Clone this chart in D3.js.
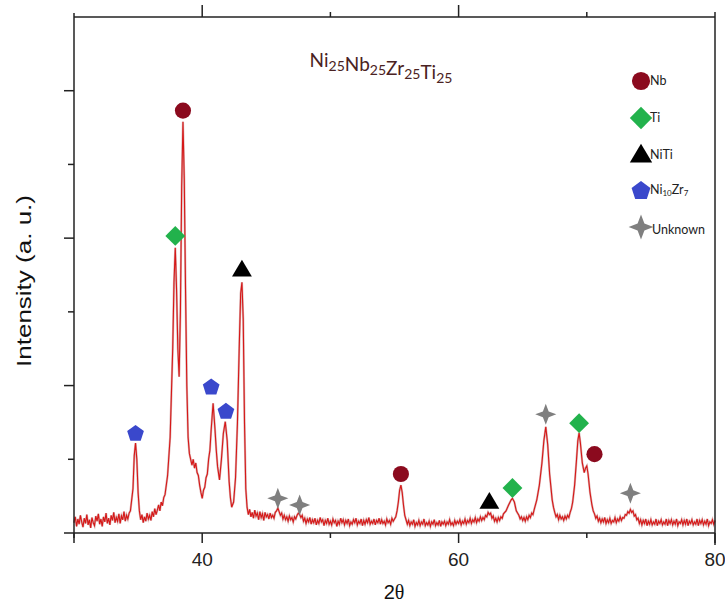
<!DOCTYPE html>
<html>
<head>
<meta charset="utf-8">
<script src="https://cdn.jsdelivr.net/npm/d3@7/dist/d3.min.js"></script>
<style>
  body { margin: 0; background: #fff; }
  svg { display: block; }
</style>
</head>
<body>
<div id="chart"></div>
<script>
var width = 725;
var height = 606;

// XRD scan: [2theta, intensity (a.u.)]
var scan = [
  [30.0,14],[30.1,22],[30.2,9],[30.3,19],[30.4,12],[30.5,24],[30.6,15],[30.7,8],[30.8,20],[30.9,13],
  [31.0,25],[31.1,11],[31.2,18],[31.3,7],[31.4,21],[31.5,14],[31.6,10],[31.7,23],[31.8,16],[31.9,26],
  [32.0,12],[32.1,19],[32.2,9],[32.3,22],[32.4,15],[32.5,27],[32.6,13],[32.7,20],[32.8,11],[32.9,24],
  [33.0,17],[33.1,28],[33.2,14],[33.3,21],[33.4,16],[33.5,26],[33.6,13],[33.7,23],[33.8,18],[33.9,29],
  [34.0,16],[34.1,24],[34.2,19],[34.3,27],[34.4,30],[34.6,60],[34.7,105],[34.8,122],[34.9,100],[35.0,55],
  [35.1,30],[35.2,18],[35.3,25],[35.4,14],[35.5,22],[35.6,16],[35.7,27],[35.8,19],[35.9,24],[36.0,17],
  [36.1,29],[36.2,22],[36.3,33],[36.4,25],[36.5,31],[36.6,38],[36.7,30],[36.8,42],[36.9,37],[37.0,48],
  [37.1,52],[37.3,78],[37.5,130],[37.7,250],[37.8,340],[37.9,387],[38.0,330],[38.1,250],[38.2,212],[38.3,300],
  [38.4,470],[38.5,558],[38.6,480],[38.7,330],[38.8,200],[38.9,130],[39.0,108],[39.1,100],[39.2,92],[39.3,100],
  [39.4,88],[39.5,95],[39.6,82],[39.7,78],[39.8,65],[39.9,55],[40.0,47],[40.1,58],[40.2,62],[40.3,75],
  [40.4,80],[40.5,100],[40.6,112],[40.7,140],[40.85,176],[41.0,140],[41.1,112],[41.2,90],[41.35,72],[41.5,100],
  [41.65,135],[41.8,151],[41.95,125],[42.1,70],[42.2,48],[42.3,35],[42.45,42],[42.6,75],[42.75,150],[42.9,260],
  [43.0,325],[43.1,340],[43.2,290],[43.3,150],[43.4,60],[43.5,35],[43.6,25],[43.7,32],[43.8,22],[43.9,28],
  [44.0,20],[44.1,31],[44.2,23],[44.3,27],[44.4,18],[44.5,29],[44.6,21],[44.7,26],[44.8,17],[44.9,28],
  [45.0,22],[45.1,25],[45.2,19],[45.3,27],[45.4,21],[45.5,24],[45.6,20],[45.7,28],[45.8,30],[45.9,34],
  [46.0,29],[46.1,24],[46.2,27],[46.3,19],[46.4,24],[46.5,18],[46.6,22],[46.7,16],[46.8,23],[46.9,18],
  [47.0,21],[47.1,15],[47.2,22],[47.3,19],[47.4,24],[47.5,27],[47.6,25],[47.7,21],[47.8,24],[47.9,16],
  [48.0,20],[48.1,13],[48.2,19],[48.3,15],[48.4,21],[48.5,12],[48.6,18],[48.7,14],[48.8,20],[48.9,11],
  [49.0,17],[49.1,13],[49.2,21],[49.3,15],[49.4,18],[49.5,10],[49.6,17],[49.7,13],[49.8,20],[49.9,12],
  [50.0,16],[50.1,11],[50.2,19],[50.3,14],[50.4,17],[50.5,9],[50.6,16],[50.7,12],[50.8,20],[50.9,14],
  [51.0,18],[51.1,11],[51.2,17],[51.3,13],[51.4,19],[51.5,10],[51.6,15],[51.7,12],[51.8,18],[51.9,14],
  [52.0,20],[52.1,11],[52.2,16],[52.3,13],[52.4,19],[52.5,10],[52.6,17],[52.7,12],[52.8,18],[52.9,14],
  [53.0,21],[53.1,12],[53.2,16],[53.3,13],[53.4,19],[53.5,11],[53.6,17],[53.7,14],[53.8,20],[53.9,12],
  [54.0,18],[54.1,13],[54.2,16],[54.3,11],[54.4,19],[54.5,14],[54.6,17],[54.7,12],[54.8,20],[54.9,16],
  [55.0,19],[55.1,22],[55.2,30],[55.3,42],[55.4,58],[55.5,65],[55.6,55],[55.7,38],[55.8,24],[55.9,18],
  [56.0,12],[56.1,17],[56.2,10],[56.3,15],[56.4,12],[56.5,18],[56.6,9],[56.7,14],[56.8,11],[56.9,17],
  [57.0,10],[57.1,15],[57.2,12],[57.3,19],[57.4,10],[57.5,14],[57.6,11],[57.7,16],[57.8,9],[57.9,15],
  [58.0,12],[58.1,18],[58.2,10],[58.3,14],[58.4,11],[58.5,17],[58.6,9],[58.7,15],[58.8,12],[58.9,16],
  [59.0,10],[59.1,15],[59.2,12],[59.3,18],[59.4,11],[59.5,14],[59.6,10],[59.7,17],[59.8,12],[59.9,16],
  [60.0,13],[60.1,18],[60.2,11],[60.3,16],[60.4,13],[60.5,19],[60.6,12],[60.7,17],[60.8,14],[60.9,20],
  [61.0,13],[61.1,18],[61.2,15],[61.3,21],[61.4,14],[61.5,19],[61.6,16],[61.7,22],[61.8,17],[61.9,21],
  [62.0,18],[62.1,24],[62.2,22],[62.3,28],[62.4,25],[62.5,27],[62.6,20],[62.7,23],[62.8,16],[62.9,20],
  [63.0,15],[63.1,21],[63.2,17],[63.3,22],[63.4,20],[63.5,26],[63.7,30],[63.9,38],[64.1,45],[64.2,47],
  [64.35,42],[64.5,30],[64.6,27],[64.7,24],[64.8,19],[64.9,22],[65.0,17],[65.1,21],[65.2,16],[65.3,22],
  [65.4,18],[65.5,24],[65.6,21],[65.7,27],[65.8,25],[65.9,32],[66.1,45],[66.3,65],[66.5,95],[66.65,125],
  [66.8,144],[66.95,120],[67.1,80],[67.3,45],[67.4,35],[67.5,28],[67.6,22],[67.7,25],[67.8,18],[67.9,24],
  [68.0,19],[68.1,22],[68.2,17],[68.3,23],[68.4,19],[68.5,24],[68.6,21],[68.7,28],[68.8,33],[68.9,42],
  [69.05,65],[69.2,100],[69.3,125],[69.4,136],[69.5,122],[69.65,95],[69.8,82],[69.9,88],[70.0,91],[70.1,80],
  [70.25,55],[70.4,38],[70.5,30],[70.6,26],[70.7,20],[70.8,23],[70.9,16],[71.0,20],[71.1,14],[71.2,19],
  [71.3,15],[71.4,21],[71.5,13],[71.6,18],[71.7,14],[71.8,20],[71.9,13],[72.0,17],[72.1,15],[72.2,21],
  [72.3,14],[72.4,19],[72.5,16],[72.6,22],[72.7,17],[72.8,21],[72.9,20],[73.0,25],[73.1,24],[73.2,29],
  [73.3,27],[73.4,32],[73.5,28],[73.6,30],[73.7,23],[73.8,25],[73.9,18],[74.0,20],[74.1,13],[74.2,18],
  [74.3,11],[74.4,17],[74.5,13],[74.6,19],[74.7,10],[74.8,16],[74.9,12],[75.0,18],[75.1,11],[75.2,15],
  [75.3,12],[75.4,19],[75.5,10],[75.6,16],[75.7,13],[75.8,18],[75.9,11],[76.0,15],[76.1,12],[76.2,19],
  [76.3,10],[76.4,17],[76.5,13],[76.6,18],[76.7,11],[76.8,16],[76.9,12],[77.0,19],[77.1,10],[77.2,15],
  [77.3,13],[77.4,18],[77.5,11],[77.6,17],[77.7,12],[77.8,19],[77.9,10],[78.0,16],[78.1,13],[78.2,18],
  [78.3,11],[78.4,15],[78.5,12],[78.6,19],[78.7,10],[78.8,17],[78.9,13],[79.0,18],[79.1,11],[79.2,16],
  [79.3,12],[79.4,19],[79.5,10],[79.6,15],[79.7,13],[79.8,18],[79.9,12],[80.0,17]
];

// phase markers: [2theta, intensity, phase]
var peakMarks = [
  [38.5, 573, "Nb"], [55.5, 80, "Nb"], [70.6, 107, "Nb"],
  [37.9, 403, "Ti"], [64.2, 61, "Ti"], [69.4, 149, "Ti"],
  [43.1, 357, "NiTi"], [62.4, 42, "NiTi"],
  [34.8, 136, "NiZr"], [40.7, 199, "NiZr"], [41.85, 166, "NiZr"],
  [45.9, 47, "Unk"], [47.6, 38, "Unk"], [66.8, 161, "Unk"], [73.4, 54, "Unk"]
];

var phases = ["Nb", "Ti", "NiTi", "NiZr", "Unk"];
var phaseColors = ["#8b0a1e", "#22b24c", "#000000", "#3a48cc", "#7f7f7f"];

var xMajor = [40, 60, 80];
var yMajor = [200, 400, 600];
var yMinor = [100, 300, 500];

var xScale = d3.scaleLinear().domain([30, 80]).range([74, 715]);
var yScale = d3.scaleLinear().domain([0, 700]).range([533, 17]);
var colorScale = d3.scaleOrdinal().domain(phases).range(phaseColors);

var svg = d3.select("#chart").append("svg")
    .attr("width", width)
    .attr("height", height);

// marker shapes
function markerPath(type, s) {
    if (type === "Nb") return d3.symbol().type(d3.symbolCircle).size(s * s * 0.8)();
    if (type === "Ti") {
        var r = s * 0.62;
        return "M0," + (-r) + "L" + r + ",0L0," + r + "L" + (-r) + ",0Z";
    }
    if (type === "NiTi") {
        var h = s * 1.05, w = s * 0.62;
        return "M0," + (-h * 0.6) + "L" + w + "," + (h * 0.4) + "L" + (-w) + "," + (h * 0.4) + "Z";
    }
    if (type === "NiZr") {
        var pts = d3.range(5).map(function(i) {
            var a = -Math.PI / 2 + i * 2 * Math.PI / 5;
            return [Math.cos(a) * s * 0.55, Math.sin(a) * s * 0.55 + 1];
        });
        return "M" + pts.join("L") + "Z";
    }
    // 4-point star
    var o = s * 0.62, n = s * 0.17;
    return "M0," + (-o) + "L" + n + "," + (-n) + "L" + o + ",0L" + n + "," + n +
           "L0," + o + "L" + (-n) + "," + n + "L" + (-o) + ",0L" + (-n) + "," + (-n) + "Z";
}

// scan line
var line = d3.line()
    .x(function(d) { return xScale(d[0]); })
    .y(function(d) { return yScale(d[1]); });

svg.append("path")
    .datum(scan)
    .attr("fill", "none")
    .attr("stroke", "#dcb4b4")
    .attr("stroke-width", 2.2)
    .attr("d", line);

svg.append("path")
    .datum(scan)
    .attr("fill", "none")
    .attr("stroke", "#d61818")
    .attr("stroke-width", 1.1)
    .attr("d", line);

// frame
var frame = svg.append("g").attr("stroke", "#222").attr("stroke-width", 1.5);
frame.append("line").attr("x1", 64).attr("x2", 715).attr("y1", 533).attr("y2", 533);
frame.append("line").attr("x1", 74).attr("x2", 715).attr("y1", 17).attr("y2", 17);
frame.append("line").attr("x1", 74).attr("x2", 74).attr("y1", 13).attr("y2", 538);
frame.append("line").attr("x1", 715).attr("x2", 715).attr("y1", 12).attr("y2", 545);

// x ticks (bottom down, top up)
frame.selectAll(".xmaj").data([30, 40, 60, 80]).enter().append("line")
    .attr("x1", function(d) { return xScale(d); }).attr("x2", function(d) { return xScale(d); })
    .attr("y1", 533).attr("y2", 543);
frame.selectAll(".xmin").data([50, 70]).enter().append("line")
    .attr("x1", function(d) { return xScale(d); }).attr("x2", function(d) { return xScale(d); })
    .attr("y1", 533).attr("y2", 538);
frame.selectAll(".xtmaj").data([40, 60]).enter().append("line")
    .attr("x1", function(d) { return xScale(d); }).attr("x2", function(d) { return xScale(d); })
    .attr("y1", 17).attr("y2", 5);
frame.selectAll(".xtmin").data([50, 70]).enter().append("line")
    .attr("x1", function(d) { return xScale(d); }).attr("x2", function(d) { return xScale(d); })
    .attr("y1", 17).attr("y2", 12);

// y ticks (left, outward)
frame.selectAll(".ymaj").data(yMajor).enter().append("line")
    .attr("x1", 64).attr("x2", 74)
    .attr("y1", function(d) { return yScale(d); }).attr("y2", function(d) { return yScale(d); });
frame.selectAll(".ymin").data(yMinor).enter().append("line")
    .attr("x1", 68).attr("x2", 74)
    .attr("y1", function(d) { return yScale(d); }).attr("y2", function(d) { return yScale(d); });

svg.selectAll(".xlab").data(xMajor).enter().append("text")
    .attr("x", function(d) { return xScale(d); })
    .attr("y", 566)
    .attr("text-anchor", "middle")
    .style("font-family", "'Liberation Sans', Arial, sans-serif")
    .style("font-size", "19px")
    .style("fill", "#222")
    .text(function(d) { return d; });

// axis titles
var xt = svg.append("text")
    .attr("x", 394).attr("y", 599)
    .attr("text-anchor", "middle")
    .style("font-family", "'Liberation Sans', Arial, sans-serif")
    .style("font-size", "20px")
    .style("fill", "#111");
xt.append("tspan").text("2");
xt.append("tspan").style("font-family", "'Liberation Serif', 'DejaVu Serif', serif").text("θ");

svg.append("text")
    .attr("transform", "translate(31,281) rotate(-90)")
    .attr("text-anchor", "middle")
    .attr("textLength", 172)
    .attr("lengthAdjust", "spacingAndGlyphs")
    .style("font-family", "'Liberation Sans', Arial, sans-serif")
    .style("font-size", "21px")
    .style("fill", "#111")
    .text("Intensity (a. u.)");

// composition label
var title = svg.append("text")
    .attr("x", 381).attr("y", 67)
    .attr("text-anchor", "middle")
    .style("font-family", "Lato, 'Open Sans', sans-serif")
    .style("font-size", "19px")
    .style("fill", "#4a2222");
[["Ni", "25"], ["Nb", "25"], ["Zr", "25"], ["Ti", "25"]].forEach(function(p) {
    title.append("tspan").text(p[0]);
    title.append("tspan").attr("dy", 4).style("font-size", "14px").text(p[1]);
    title.append("tspan").attr("dy", -4).text("");
});

// peak markers
svg.selectAll(".mark").data(peakMarks).enter().append("path")
    .attr("transform", function(d) { return "translate(" + xScale(d[0]) + "," + yScale(d[1]) + ")"; })
    .attr("d", function(d) { return markerPath(d[2], d[2] === "Unk" ? 17 : 16); })
    .attr("fill", function(d) { return colorScale(d[2]); });

// legend
var legendY = [81, 118, 155, 190, 227];
var legend = svg.selectAll(".leg").data(phases).enter().append("g")
    .attr("transform", function(d, i) { return "translate(641," + legendY[i] + ")"; });
legend.append("path")
    .attr("d", function(d) { return markerPath(d, d === "Unk" ? 20 : 18); })
    .attr("fill", function(d) { return colorScale(d); });
var legText = legend.append("text")
    .attr("x", function(d) { return d === "Unk" ? 11 : 9; })
    .attr("y", 4)
    .style("font-family", "Lato, 'Open Sans', sans-serif")
    .style("font-size", "12.5px")
    .style("fill", "#222");
legText.each(function(d) {
    var t = d3.select(this);
    if (d === "NiZr") {
        t.append("tspan").text("Ni");
        t.append("tspan").style("font-size", "8px").attr("dy", 2).text("10");
        t.append("tspan").attr("dy", -2).text("Zr");
        t.append("tspan").style("font-size", "8px").attr("dy", 2).text("7");
    } else if (d === "Unk") {
        t.append("tspan").attr("dy", 3).text("Unknown");
    } else {
        t.text(d);
    }
});
</script>
</body>
</html>
